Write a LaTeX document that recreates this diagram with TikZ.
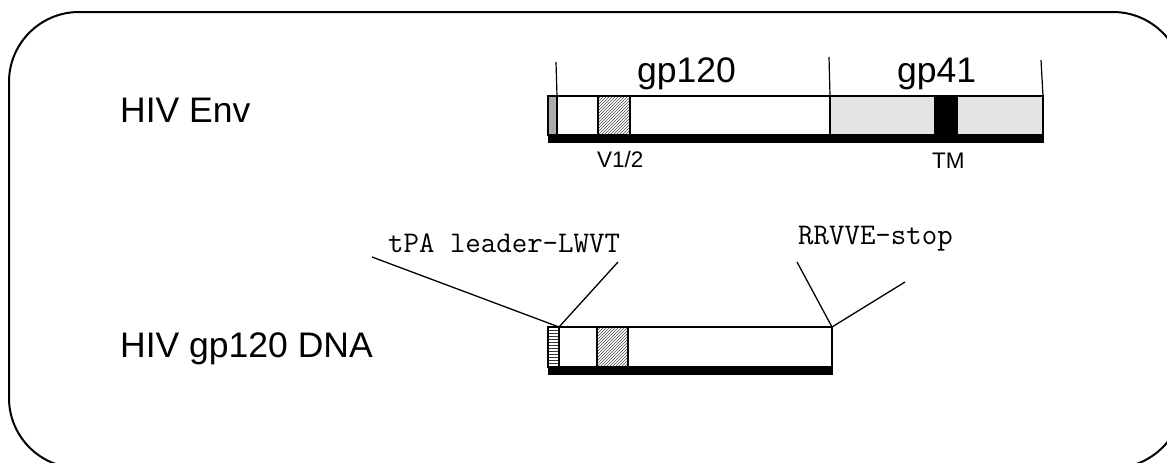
\documentclass[tikz,border=0pt]{standalone}
\usepackage{fontspec}
\setmainfont{Liberation Sans}
\usetikzlibrary{patterns}
\begin{document}
\begin{tikzpicture}[x=1pt,y=-1pt,
  seg/.style={draw, line width=1.3pt, rectangle, inner sep=0pt, outer sep=0pt, anchor=north west, minimum height=39pt},
  bar/.style={fill=black, draw=black, line width=0.5pt, rectangle, inner sep=0pt, outer sep=0pt, anchor=north west, minimum height=7pt},
  tick/.style={line width=1.2pt},
  conn/.style={line width=1.3pt},
  big/.style={font=\fontsize{35.5}{40}\selectfont, inner sep=0pt, anchor=base west},
  small/.style={font=\fontsize{22.5}{25}\selectfont, inner sep=0pt, anchor=base west},
  mono/.style={font=\ttfamily\fontsize{30}{34}\selectfont, inner sep=0pt, anchor=base west}]
\useasboundingbox (0,0) rectangle (1167,463);
\begin{scope}
\clip (0,0) rectangle (1167,463);
\draw[line width=2pt, rounded corners=70pt] (9,12) rectangle (1183,468);
\end{scope}
% labels
\node[big] (envlab) at (120,122) {HIV Env};
\node[big] (dnalab) at (120,357) {HIV gp120 DNA};
\node[big] (gp120lab) at (637,82) {gp120};
\node[big] (gp41lab) at (897,82) {gp41};
\node[small] (v12lab) at (597,167) {V1/2};
\node[small] (tmlab) at (932,168) {TM};
\node[mono] (tpalab) at (388,252) {tPA leader-LWVT};
\node[mono] (rrlab) at (798,244) {RRVVE-stop};
% Env bar
\node[bar, minimum width=495pt] (envbar) at (548,135) {};
\node[seg, fill=gray!65, minimum width=9pt] (envlead) at (548,96) {};
\node[seg, fill=white, minimum width=41pt] (envw1) at (557,96) {};
\node[seg, pattern=north east lines, pattern color=black!70, minimum width=32pt] (envv12) at (598,96) {};
\node[seg, fill=white, minimum width=200pt] (envw2) at (630,96) {};
\node[seg, fill=gray!22, minimum width=105pt] (gp41a) at (830,96) {};
\node[seg, fill=black, minimum width=22pt] (tm) at (935,96) {};
\node[seg, fill=gray!22, minimum width=86pt] (gp41b) at (957,96) {};
% ticks
\coordinate (t1) at (556,62);
\coordinate (t2) at (829,57);
\coordinate (t3) at (1041,60);
\draw[tick] (t1) -- (envw1.north west);
\draw[tick] (t2) -- (gp41a.north west);
\draw[tick] (t3) -- (gp41b.north east);
% DNA bar
\node[bar, minimum width=284pt] (dnabar) at (548,367) {};
\node[seg, pattern=horizontal lines, pattern color=black!80, minimum width=11pt, minimum height=40pt] (dnalead) at (548,327) {};
\node[seg, fill=white, minimum width=38pt, minimum height=40pt] (dnaw1) at (559,327) {};
\node[seg, pattern=north east lines, pattern color=black!70, minimum width=31pt, minimum height=40pt] (dnav12) at (597,327) {};
\node[seg, fill=white, minimum width=204pt, minimum height=40pt] (dnaw2) at (628,327) {};
% connectors
\coordinate (c1) at (372,257);
\coordinate (c2) at (618,262);
\coordinate (c3) at (797,262);
\coordinate (c4) at (905,282);
\draw[conn] (c1) -- (dnalead.north east);
\draw[conn] (c2) -- (dnalead.north east);
\draw[conn] (c3) -- (dnaw2.north east);
\draw[conn] (c4) -- (dnaw2.north east);
\end{tikzpicture}
\end{document}
